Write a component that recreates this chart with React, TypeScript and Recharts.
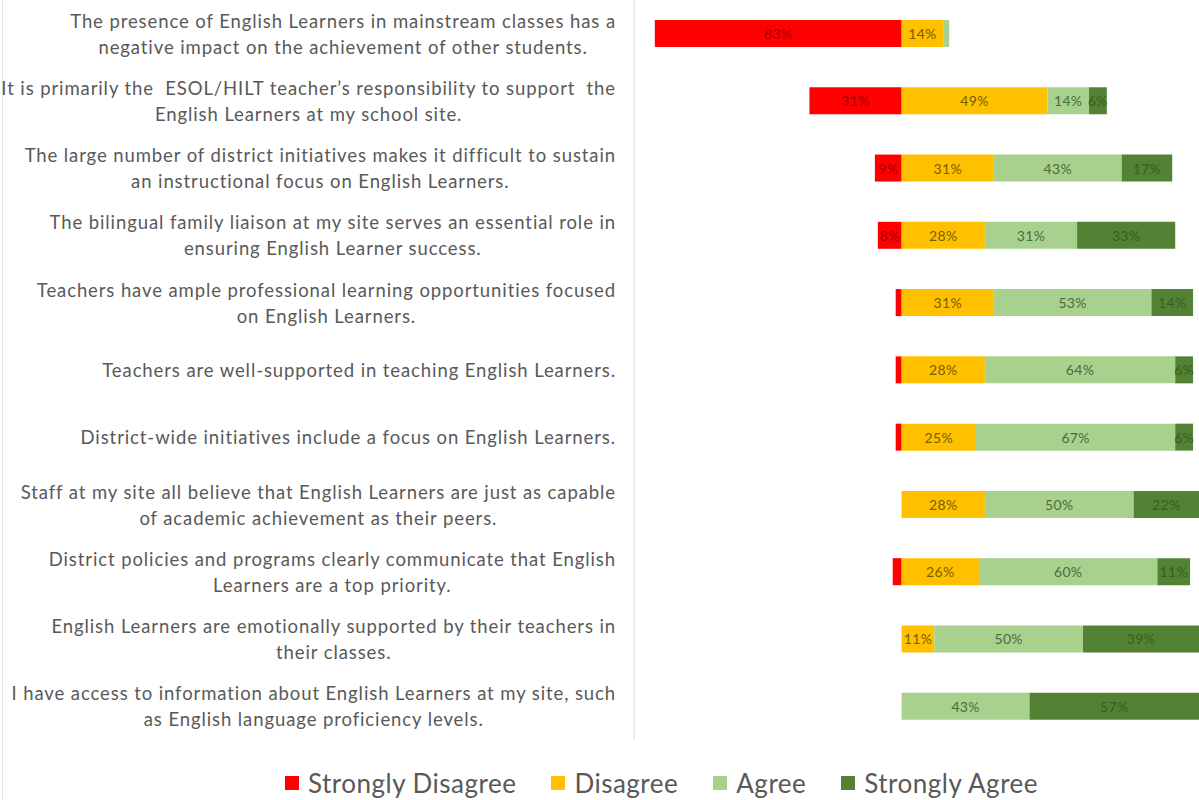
import React from "react";
import { BarChart, Bar, XAxis, YAxis, Legend, LabelList } from "recharts";

const categories = [
  "The presence of English Learners in mainstream classes has a\nnegative impact on the achievement of other students.",
  "It is primarily the  ESOL/HILT teacher\u2019s responsibility to support  the\nEnglish Learners at my school site.",
  "The large number of district initiatives makes it difficult to sustain\nan instructional focus on English Learners.",
  "The bilingual family liaison at my site serves an essential role in\nensuring English Learner success.",
  "Teachers have ample professional learning opportunities focused\non English Learners.",
  "Teachers are well-supported in teaching English Learners.",
  "District-wide initiatives include a focus on English Learners.",
  "Staff at my site all believe that English Learners are just as capable\nof academic achievement as their peers.",
  "District policies and programs clearly communicate that English\nLearners are a top priority.",
  "English Learners are emotionally supported by their teachers in\ntheir classes.",
  "I have access to information about English Learners at my site, such\nas English language proficiency levels.",
];

const stronglyDisagree = [83, 31, 9, 8, 2, 2, 2, 0, 3, 0, 0];
const disagree = [14, 49, 31, 28, 31, 28, 25, 28, 26, 11, 0];
const agree = [2, 14, 43, 31, 53, 64, 67, 50, 60, 50, 43];
const stronglyAgree = [0, 6, 17, 33, 14, 6, 6, 22, 11, 39, 57];

const seriesNames = ["Strongly Disagree", "Disagree", "Agree", "Strongly Agree"];

const COLORS = ["#FF0000", "#FFC000", "#A9D18E", "#548235"];
const LABEL_COLORS = ["#a00000", "#7a5c00", "#4b6b3c", "#35601f"];
const FONT = "Lato, 'Open Sans', sans-serif";

// strongly disagree goes left of zero, the rest stack to the right
const data = categories.map((name, i) => ({
  name,
  sd: -stronglyDisagree[i],
  d: disagree[i],
  a: agree[i],
  sa: stronglyAgree[i],
}));

const CategoryTick = (props: any) => {
  const { y, payload } = props;
  return (
    <foreignObject x={0} y={y - 32} width={616} height={64}>
      <div
        style={{
          display: "flex",
          justifyContent: "flex-end",
          alignItems: "center",
          height: "100%",
        }}
      >
        <div
          style={{
            textAlign: "center",
            whiteSpace: "pre",
            fontFamily: FONT,
            fontSize: 18.5,
            letterSpacing: 0.9,
            lineHeight: "26px",
            color: "#595959",
          }}
        >
          {payload.value}
        </div>
      </div>
    </foreignObject>
  );
};

const makeLabel = (color: string) => (props: any) => {
  const { x, y, width, height, value } = props;
  const v = Math.abs(Number(value));
  if (!v || v < 4) return null;
  return (
    <text
      x={x + width / 2}
      y={y + height / 2}
      textAnchor="middle"
      dominantBaseline="central"
      fontFamily={FONT}
      fontSize={14}
      letterSpacing={0.3}
      fill={color}
    >
      {v}%
    </text>
  );
};

const renderLegend = () => (
  <div
    style={{
      height: 60,
      boxSizing: "border-box",
      paddingTop: 26,
      paddingLeft: 124,
      display: "flex",
      justifyContent: "center",
      gap: 35,
      fontFamily: FONT,
      fontSize: 26,
      letterSpacing: 0.5,
      color: "#595959",
    }}
  >
    {seriesNames.map((n, i) => (
      <div key={n} style={{ display: "flex", alignItems: "center", height: 34 }}>
        <span
          style={{
            width: 14,
            height: 14,
            background: COLORS[i],
            display: "inline-block",
            marginRight: 9,
          }}
        />
        {n}
      </div>
    ))}
  </div>
);

export default function App() {
  return (
    <div
      style={{
        position: "relative",
        width: 1199,
        height: 800,
        overflow: "hidden",
        background: "#fff",
      }}
    >
      <style>{"body{margin:0}"}</style>
      <div
        style={{
          position: "absolute",
          left: 2,
          top: 0,
          width: 1,
          height: 800,
          background: "#e2e2e2",
        }}
      />
      <BarChart
        width={1199}
        height={800}
        data={data}
        layout="vertical"
        stackOffset="sign"
        barSize={27}
        margin={{ top: 0, right: 0, bottom: 0, left: 0 }}
      >
        <XAxis type="number" domain={[-90, 100]} hide allowDataOverflow />
        <YAxis
          type="category"
          dataKey="name"
          width={634}
          axisLine={{ stroke: "#d9d9d9" }}
          tickLine={false}
          tick={<CategoryTick />}
          interval={0}
        />
        <Legend verticalAlign="bottom" content={renderLegend} />
        <Bar dataKey="sd" name={seriesNames[0]} stackId="s" fill={COLORS[0]} isAnimationActive={false}>
          <LabelList dataKey="sd" content={makeLabel(LABEL_COLORS[0])} />
        </Bar>
        <Bar dataKey="d" name={seriesNames[1]} stackId="s" fill={COLORS[1]} isAnimationActive={false}>
          <LabelList dataKey="d" content={makeLabel(LABEL_COLORS[1])} />
        </Bar>
        <Bar dataKey="a" name={seriesNames[2]} stackId="s" fill={COLORS[2]} isAnimationActive={false}>
          <LabelList dataKey="a" content={makeLabel(LABEL_COLORS[2])} />
        </Bar>
        <Bar dataKey="sa" name={seriesNames[3]} stackId="s" fill={COLORS[3]} isAnimationActive={false}>
          <LabelList dataKey="sa" content={makeLabel(LABEL_COLORS[3])} />
        </Bar>
      </BarChart>
    </div>
  );
}
